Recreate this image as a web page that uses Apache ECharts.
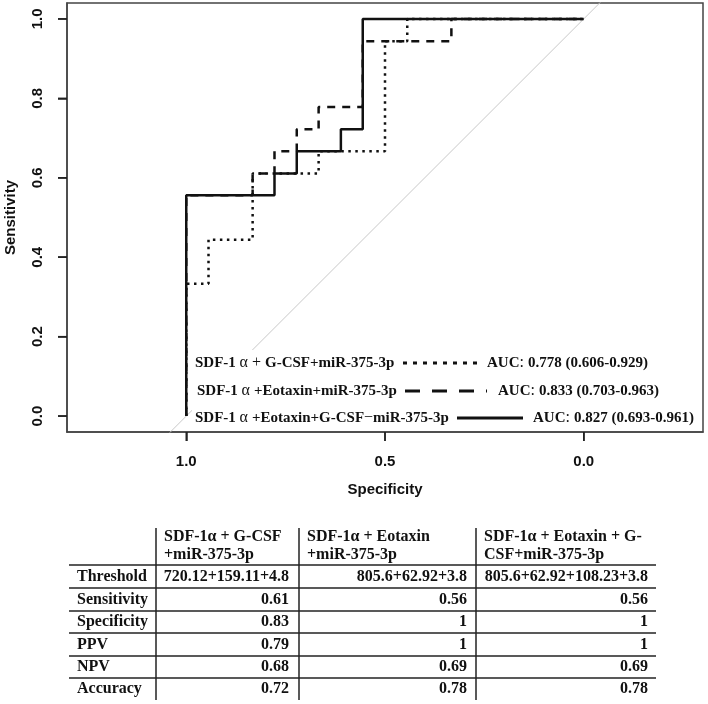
<!DOCTYPE html>
<html>
<head>
<meta charset="utf-8">
<script src="https://cdn.jsdelivr.net/npm/echarts@6/dist/echarts.min.js"></script>
<style>
html,body{margin:0;padding:0;background:#fff;}
#chart{width:708px;height:704px;}
</style>
</head>
<body>
<div id="chart"></div>
<script>
// ---------- DATA ----------
const specificityTicks = [0, 0.5, 1.0];
const sensitivityTicks = [0, 0.2, 0.4, 0.6, 0.8, 1.0];

// SDF-1α + G-CSF + miR-375-3p (dotted)
const gcsfSpec = [1, 1, 0.944, 0.944, 0.833, 0.833, 0.667, 0.667, 0.5, 0.5, 0.444, 0.444, 0];
const gcsfSens = [0, 0.333, 0.333, 0.444, 0.444, 0.611, 0.611, 0.667, 0.667, 0.944, 0.944, 1, 1];
// SDF-1α + Eotaxin + miR-375-3p (dashed)
const eotSpec = [1, 1, 0.833, 0.833, 0.778, 0.778, 0.722, 0.722, 0.667, 0.667, 0.556, 0.556, 0.333, 0.333, 0];
const eotSens = [0, 0.556, 0.556, 0.611, 0.611, 0.667, 0.667, 0.722, 0.722, 0.778, 0.778, 0.944, 0.944, 1, 1];
// SDF-1α + Eotaxin + G-CSF + miR-375-3p (solid)
const allSpec = [1, 1, 0.778, 0.778, 0.722, 0.722, 0.611, 0.611, 0.556, 0.556, 0];
const allSens = [0, 0.556, 0.556, 0.611, 0.611, 0.667, 0.667, 0.722, 0.722, 1, 1];

const legendNames = [
  '{b|SDF-1 }{n|α + }{b|G-CSF+miR-375-3p}',
  '{b|SDF-1 }{n|α }{b|+Eotaxin+miR-375-3p}',
  '{b|SDF-1 }{n|α }{b|+Eotaxin+G-CSF}{n|−}{b|miR-375-3p}'
];
const aucValues = ['0.778 (0.606-0.929)', '0.833 (0.703-0.963)', '0.827 (0.693-0.961)'];

const tableHeaders = ['SDF-1α + G-CSF\n+miR-375-3p', 'SDF-1α + Eotaxin\n+miR-375-3p', 'SDF-1α + Eotaxin + G-\nCSF+miR-375-3p'];
const tableRows = ['Threshold', 'Sensitivity', 'Specificity', 'PPV', 'NPV', 'Accuracy'];
const colGcsf = ['720.12+159.11+4.8', '0.61', '0.83', '0.79', '0.68', '0.72'];
const colEot = ['805.6+62.92+3.8', '0.56', '1', '1', '0.69', '0.78'];
const colAll = ['805.6+62.92+108.23+3.8', '0.56', '1', '1', '0.69', '0.78'];

// ---------- LAYOUT ----------
const zip = (a, b) => a.map((v, i) => [v, b[i]]);
const SERIF = '"Liberation Serif", "Times New Roman", serif';
const SANS = '"Liberation Sans", Arial, sans-serif';
const chart = echarts.init(document.getElementById('chart'), null, {renderer: 'canvas'});

const graphic = [];
// white legend background
graphic.push({type: 'rect', shape: {x: 192, y: 350, width: 510, height: 81}, style: {fill: '#fff'}, z: 10});
const legY = [363, 391, 418];
const legTextX = [195, 197, 195];
const legLine = [[403, 483], [405, 487], [457, 523]];
const legDash = [[4, 6], [15, 12], null];
const aucX = [487, 498, 533];
const rich = {
  b: {fontFamily: SERIF, fontWeight: 'bold', fontSize: 15, fill: '#111'},
  n: {fontFamily: SERIF, fontWeight: 'normal', fontSize: 16, fill: '#111'}
};
for (let i = 0; i < 3; i++) {
  graphic.push({type: 'text', z: 11, x: legTextX[i], y: legY[i],
    style: {text: legendNames[i], rich: rich, verticalAlign: 'middle', align: 'left'}});
  graphic.push({type: 'line', z: 11, shape: {x1: legLine[i][0], y1: legY[i], x2: legLine[i][1], y2: legY[i]},
    style: {stroke: '#111', lineWidth: 3, lineDash: legDash[i] || null}});
  graphic.push({type: 'text', z: 11, x: aucX[i], y: legY[i],
    style: {text: '{b|AUC}{n|: }{b|' + aucValues[i] + '}', rich: rich, verticalAlign: 'middle', align: 'left'}});
}

// table
const tL = 69, tR = 656, vx = [156, 299, 476], tTop = 528, tBot = 700;
const hLines = [565, 588, 611, 633, 656, 678];
const lineStyle = {stroke: '#222', lineWidth: 1.5};
hLines.forEach(y => graphic.push({type: 'line', shape: {x1: tL, y1: y, x2: tR, y2: y}, style: lineStyle}));
vx.forEach(x => graphic.push({type: 'line', shape: {x1: x, y1: tTop, x2: x, y2: tBot}, style: lineStyle}));
const tFont = {fontFamily: SERIF, fontWeight: 'bold', fontSize: 16, fill: '#111'};
const headX = [164, 307, 484];
tableHeaders.forEach((h, i) => graphic.push({type: 'text', x: headX[i], y: tTop,
  style: Object.assign({text: h, lineHeight: 18, verticalAlign: 'top', align: 'left'}, tFont)}));
const rowY = [576.5, 599.5, 622, 644.5, 667, 689];
const valRight = [289, 467, 648];
const cols = [colGcsf, colEot, colAll];
tableRows.forEach((r, j) => {
  graphic.push({type: 'text', x: 77, y: rowY[j], style: Object.assign({text: r, verticalAlign: 'middle', align: 'left'}, tFont)});
  cols.forEach((c, i) => graphic.push({type: 'text', x: valRight[i], y: rowY[j],
    style: Object.assign({text: c[j], verticalAlign: 'middle', align: 'right'}, tFont)}));
});

const option = {
  animation: false,
  backgroundColor: '#fff',
  grid: {left: 67, top: 3, width: 636, height: 429, show: true, borderColor: '#444', borderWidth: 1.5,
    outerBoundsMode: 'none'},
  xAxis: {
    type: 'value', min: -0.3, max: 1.3, inverse: true,
    name: 'Specificity', nameLocation: 'middle', nameGap: 50,
    nameTextStyle: {fontFamily: SANS, fontWeight: 'bold', fontSize: 15, color: '#111'},
    axisLine: {show: true, onZero: false, lineStyle: {color: '#444', width: 1.5}},
    splitLine: {show: false},
    axisTick: {show: true, length: 9, customValues: specificityTicks, lineStyle: {color: '#222', width: 1.5}},
    axisLabel: {customValues: specificityTicks, margin: 22, formatter: v => v.toFixed(1),
      fontFamily: SANS, fontWeight: 'bold', fontSize: 15, color: '#111'}
  },
  yAxis: {
    type: 'value', min: -0.04, max: 1.04,
    name: 'Sensitivity', nameLocation: 'middle', nameGap: 49,
    nameTextStyle: {fontFamily: SANS, fontWeight: 'bold', fontSize: 15, color: '#111'},
    axisLine: {show: true, onZero: false, lineStyle: {color: '#444', width: 1.5}},
    splitLine: {show: false},
    axisTick: {show: true, length: 9, customValues: sensitivityTicks, lineStyle: {color: '#222', width: 1.5}},
    axisLabel: {customValues: sensitivityTicks, margin: 22, rotate: 90, formatter: v => v.toFixed(1),
      fontFamily: SANS, fontWeight: 'bold', fontSize: 15, color: '#111'}
  },
  series: [
    {type: 'line', name: 'diag', data: [[1.3, -0.3], [-0.3, 1.3]], symbol: 'none', clip: true,
      lineStyle: {color: '#c8c8c8', width: 1}, z: 1, silent: true},
    {type: 'line', name: 'gcsf', data: zip(gcsfSpec, gcsfSens), symbol: 'none', clip: true,
      lineStyle: {color: '#111', width: 2.5, type: [2.5, 4.5], cap: 'butt'}},
    {type: 'line', name: 'eot', data: zip(eotSpec, eotSens), symbol: 'none', clip: true,
      lineStyle: {color: '#111', width: 2.5, type: [8, 7], cap: 'butt'}},
    {type: 'line', name: 'all', data: zip(allSpec, allSens), symbol: 'none', clip: true,
      lineStyle: {color: '#111', width: 2.5, type: 'solid'}}
  ]
};
chart.setOption(option);

// axis tick marks placed through the chart's own scales (drawn on top)
const tickLen = 9;
const tickStyle = {stroke: '#222', lineWidth: 1.5};
try {
  const pX = specificityTicks.map(v => chart.convertToPixel({xAxisIndex: 0}, v));
  const pY = sensitivityTicks.map(v => chart.convertToPixel({yAxisIndex: 0}, v));
  const axisBottom = chart.convertToPixel({yAxisIndex: 0}, -0.04);
  const axisLeft = chart.convertToPixel({xAxisIndex: 0}, 1.3);
  pX.forEach(px => graphic.push({type: 'line', z: 100, shape: {x1: px, y1: axisBottom, x2: px, y2: axisBottom + tickLen}, style: tickStyle}));
  pY.forEach(py => graphic.push({type: 'line', z: 100, shape: {x1: axisLeft - tickLen, y1: py, x2: axisLeft, y2: py}, style: tickStyle}));
} catch (e) {}
chart.setOption({graphic: graphic});
</script>
</body>
</html>
